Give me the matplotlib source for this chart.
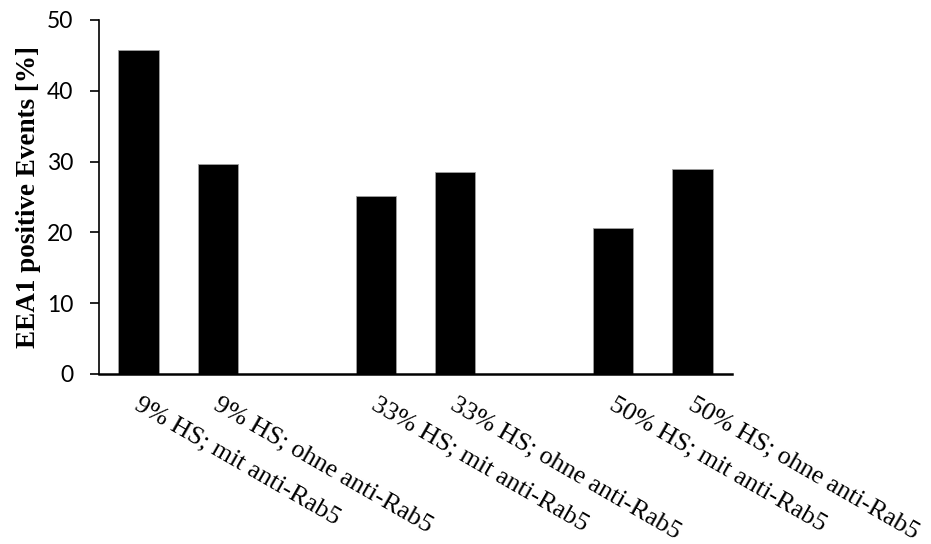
import matplotlib
matplotlib.use("Agg")
import matplotlib.pyplot as plt

categories = ["9% HS; mit anti-Rab5", "9% HS; ohne anti-Rab5", "",
              "33% HS; mit anti-Rab5", "33% HS; ohne anti-Rab5", "",
              "50% HS; mit anti-Rab5", "50% HS; ohne anti-Rab5"]
values = [45.8, 29.6, None, 25.1, 28.6, None, 20.6, 29.0]
y_ticks = [0, 10, 20, 30, 40, 50]

fig = plt.figure(figsize=(9.31, 5.44), dpi=100)
ax = fig.add_axes([99/931, 1-374/544, (732-99)/931, (374-20)/544])

xs = [i for i, v in enumerate(values) if v is not None]
hs = [v for v in values if v is not None]
ax.bar(xs, hs, width=0.51, color="black", edgecolor="#a0a0a0", linewidth=0.6)

ax.set_xlim(-0.5, len(categories) - 0.5)
ax.set_ylim(0, 50)
ax.set_yticks(y_ticks)
ax.set_yticklabels([str(t) for t in y_ticks], fontfamily="Lato", fontsize=16.5)
ax.tick_params(axis="y", length=6.5, width=1.2, direction="out", pad=12)
ax.tick_params(axis="x", length=0)
ax.set_xticks([])

for s in ["top", "right"]:
    ax.spines[s].set_visible(False)
ax.spines["left"].set_linewidth(1.2)
ax.spines["bottom"].set_linewidth(1.8)

for i, lab in enumerate(categories):
    if lab:
        ax.annotate(lab, xy=(i, 0), xycoords="data", xytext=(-2, -21),
                    textcoords="offset points", rotation=-30,
                    rotation_mode="anchor", ha="left", va="center",
                    fontfamily="Liberation Serif", fontsize=18.8)

ax.set_ylabel("EEA1 positive Events [%]", fontfamily="Liberation Serif",
              fontweight="bold", fontsize=19.5, labelpad=4)

fig.savefig("out.png", dpi=100)
